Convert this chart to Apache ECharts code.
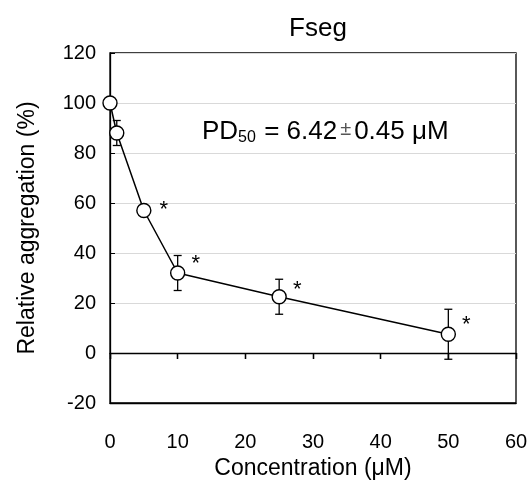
<!DOCTYPE html>
<html><head><meta charset="utf-8">
<script src="https://cdn.jsdelivr.net/npm/echarts@6/dist/echarts.min.js"></script>
<style>html,body{margin:0;padding:0;background:#fff}#c{width:530px;height:482px}</style>
</head><body><div id="c"></div>
<script>
var concentrations = [0, 1, 5, 10, 25, 50];
var aggregation = [100, 88, 57, 32, 22.5, 7.5];
var errors = [0, 5, 2, 7, 7, 10];
var significant = [false, false, true, true, true, true];
var xTicks = [0, 10, 20, 30, 40, 50, 60];
var yTicks = [-20, 0, 20, 40, 60, 80, 100, 120];
var titleText = 'Fseg';
var xName = 'Concentration (\u03bcM)';
var yName = 'Relative aggregation (%)';

// styling only: where each asterisk label sits relative to its marker (px)
var starOffsets = [[19, -8], [19, -8], [20, -1], [18, -9], [18, -7], [18, -9]];

var FONT = '"Liberation Sans", Arial, sans-serif';
var chart = echarts.init(document.getElementById('c'), null, {renderer: 'canvas'});
var gridRect = {left: 110, top: 53, right: 14, bottom: 79, containLabel: false, outerBoundsMode: 'none'};

var lineData = concentrations.map(function (x, i) {
  return {
    value: [x, aggregation[i]],
    label: {show: significant[i], offset: starOffsets[i]}
  };
});
var errData = concentrations.map(function (x, i) { return [x, aggregation[i], errors[i]]; });

chart.setOption({
  animation: false,
  title: {
    text: titleText, left: 313, top: 11, textAlign: 'center',
    textStyle: {fontFamily: FONT, fontSize: 26, fontWeight: 'normal', color: '#000'}
  },
  grid: [
    Object.assign({show: true, borderColor: '#000', borderWidth: 1.3, backgroundColor: 'transparent'}, gridRect),
    Object.assign({show: false}, gridRect)
  ],
  xAxis: [
    {
      type: 'value', gridIndex: 0, min: xTicks[0], max: xTicks[xTicks.length - 1], interval: 10,
      position: 'bottom',
      axisLine: {onZero: false, show: true, lineStyle: {color: '#000', width: 1.3}},
      axisTick: {show: false},
      splitLine: {show: false},
      axisLabel: {fontFamily: FONT, fontSize: 20, color: '#000', margin: 29},
      name: xName, nameLocation: 'middle', nameGap: 51,
      nameTextStyle: {fontFamily: FONT, fontSize: 23, color: '#000'}
    },
    {
      type: 'value', gridIndex: 0, min: xTicks[0], max: xTicks[xTicks.length - 1], interval: 10,
      axisLine: {onZero: true, show: true, lineStyle: {color: '#000', width: 1.3}},
      axisTick: {show: true, inside: true, length: 6, lineStyle: {color: '#000', width: 1.3}},
      axisLabel: {show: false}, splitLine: {show: false}
    },
    {
      type: 'value', gridIndex: 1, min: xTicks[0], max: xTicks[xTicks.length - 1], interval: 10,
      axisLine: {onZero: true, show: false},
      axisTick: {show: true, inside: false, length: 6, lineStyle: {color: '#000', width: 1.3}},
      axisLabel: {show: false}, splitLine: {show: false}
    }
  ],
  yAxis: [
    {
      type: 'value', gridIndex: 0, min: yTicks[0], max: yTicks[yTicks.length - 1], interval: 20,
      axisLine: {show: true, lineStyle: {color: '#000', width: 1.3}},
      axisTick: {show: true, inside: true, length: 5, lineStyle: {color: '#000', width: 1}},
      splitLine: {show: true, lineStyle: {color: '#d9d9d9', width: 1.2}},
      axisLabel: {fontFamily: FONT, fontSize: 20, color: '#000', margin: 14},
      name: yName, nameLocation: 'middle', nameGap: 71, nameRotate: 90,
      nameTextStyle: {fontFamily: FONT, fontSize: 23, color: '#000'}
    },
    {
      type: 'value', gridIndex: 1, min: yTicks[0], max: yTicks[yTicks.length - 1], interval: 20,
      show: false
    }
  ],
  graphic: [{
    type: 'text', left: 202, top: 119, z: 10,
    style: {
      text: '{a|PD}{s|50}{a| = 6.42}{p|\u00b1}{a|0.45 \u03bcM}',
      rich: {
        a: {fontFamily: FONT, fontSize: 26, fill: '#000'},
        s: {fontFamily: FONT, fontSize: 16, fill: '#000', verticalAlign: 'bottom', padding: [12, 1, 0, 0]},
        p: {fontFamily: FONT, fontSize: 20, fill: '#555', padding: [0, 3, 5, 3]}
      }
    }
  }],
  series: [
    {
      type: 'custom', xAxisIndex: 1, yAxisIndex: 0, z: 1,
      data: errData,
      renderItem: function (params, api) {
        var x = api.value(0), y = api.value(1), e = api.value(2);
        if (!e) return null;
        var top = api.coord([x, y + e]);
        var bot = api.coord([x, y - e]);
        var w = 4;
        var st = {stroke: '#000', lineWidth: 1.3};
        return {type: 'group', children: [
          {type: 'line', shape: {x1: top[0], y1: top[1], x2: bot[0], y2: bot[1]}, style: st},
          {type: 'line', shape: {x1: top[0] - w, y1: top[1], x2: top[0] + w, y2: top[1]}, style: st},
          {type: 'line', shape: {x1: bot[0] - w, y1: bot[1], x2: bot[0] + w, y2: bot[1]}, style: st}
        ]};
      }
    },
    {
      type: 'line', xAxisIndex: 1, yAxisIndex: 0, z: 5,
      data: lineData,
      lineStyle: {color: '#000', width: 1.5},
      symbol: 'circle', symbolSize: 14,
      itemStyle: {color: '#fff', borderColor: '#000', borderWidth: 1.4},
      label: {
        position: 'inside', formatter: '*',
        fontFamily: FONT, fontSize: 22, color: '#000'
      },
      emphasis: {disabled: true}
    }
  ]
});
</script></body></html>
